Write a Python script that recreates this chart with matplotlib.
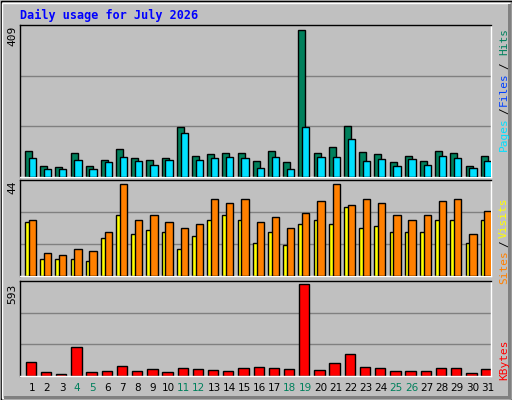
import matplotlib
matplotlib.use("Agg")
import matplotlib.pyplot as plt
from matplotlib.patches import Rectangle
import numpy as np

days = list(range(1, 32))
weekends = [4, 5, 11, 12, 18, 19, 25, 26]
hits = [72,30,27,66,30,46,77,52,46,52,139,58,63,66,66,44,72,41,409,66,83,141,69,63,41,58,44,72,66,30,58]
files = [52,21,21,46,21,41,55,44,33,46,122,46,52,55,52,24,55,21,139,55,55,105,44,49,30,49,33,58,52,24,44]
sites = [26,8,8,8,7,18,29,20,22,21,13,19,27,29,27,16,21,15,25,27,25,33,23,24,21,21,21,27,27,16,27]
visits = [27,11,10,13,12,21,44,27,29,26,23,25,37,35,37,26,28,23,30,36,44,34,37,35,29,27,29,36,37,20,31]
kbytes = [91,26,13,189,26,33,65,33,46,26,52,46,39,33,52,59,52,46,593,39,85,143,59,52,33,33,33,52,52,20,46]

W, H = 512, 400
fig = plt.figure(figsize=(W/100, H/100), dpi=100)
fig.patch.set_facecolor("#C0C0C0")
mono = "DejaVu Sans Mono"

fig.add_artist(Rectangle((0.5/W, 0.5/H), 1-1/W, 1-1/H, transform=fig.transFigure, fill=False, ec="black", lw=1))
fig.add_artist(Rectangle((2/W, 2/H), 1-5/W, 1-5/H, transform=fig.transFigure, fill=False, ec="white", lw=1))
fig.add_artist(Rectangle((4/W, 1/H), 1-5/W, 3/H, transform=fig.transFigure, color="#808080", lw=0))
fig.add_artist(Rectangle((1-4/W, 1/H), 3/W, 1-5/H, transform=fig.transFigure, color="#808080", lw=0))

def mk(top, base):
    ax = fig.add_axes([20/W, (H-base)/H, 471/W, (base-top)/H])
    ax.set_facecolor("#C0C0C0")
    ax.set_xlim(0.3, 31.3)
    for s in ax.spines.values():
        s.set_color("black"); s.set_linewidth(1)
    ax.spines["right"].set_color("white"); ax.spines["bottom"].set_color("white")
    ax.set_xticks([]); ax.set_yticks([])
    return ax

x = np.array(days)
ax1 = mk(25, 177)
top1 = 409*152/147
ax1.set_ylim(0, top1)
for f in (1/3, 2/3):
    ax1.axhline(top1*f, color="#808080", lw=1, zorder=0)
ax1.bar(x-0.375, hits, width=0.46, align="edge", color="#00805C", ec="black", lw=1, zorder=2)
ax1.bar(x-0.13, files, width=0.48, align="edge", color="#00E0FF", ec="black", lw=1, zorder=3)
fig.text(17/W, (H-26)/H, "409", rotation=90, ha="right", va="top", fontsize=8, family=mono)
fig.text(504/W, (H-28)/H, "Hits", rotation=90, ha="center", va="top", fontsize=8, family=mono, color="#00805C")
fig.text(504/W, (H-62)/H, "/", rotation=90, ha="center", va="top", fontsize=8, family=mono, color="black")
fig.text(504/W, (H-72)/H, "Files", rotation=90, ha="center", va="top", fontsize=8, family=mono, color="#0040FF")
fig.text(504/W, (H-107)/H, "/", rotation=90, ha="center", va="top", fontsize=8, family=mono, color="black")
fig.text(504/W, (H-117)/H, "Pages", rotation=90, ha="center", va="top", fontsize=8, family=mono, color="#00E0FF")

ax2 = mk(180, 276)
top2 = 44*96/92
ax2.set_ylim(0, top2)
for f in (1/3, 2/3):
    ax2.axhline(top2*f, color="#808080", lw=1, zorder=0)
ax2.bar(x-0.375, sites, width=0.46, align="edge", color="#FFFF00", ec="black", lw=1, zorder=2)
ax2.bar(x-0.13, visits, width=0.48, align="edge", color="#FF8000", ec="black", lw=1, zorder=3)
fig.text(17/W, (H-181)/H, "44", rotation=90, ha="right", va="top", fontsize=8, family=mono)
fig.text(504/W, (H-198)/H, "Visits", rotation=90, ha="center", va="top", fontsize=8, family=mono, color="#FFFF00")
fig.text(504/W, (H-240)/H, "/", rotation=90, ha="center", va="top", fontsize=8, family=mono, color="black")
fig.text(504/W, (H-250)/H, "Sites", rotation=90, ha="center", va="top", fontsize=8, family=mono, color="#FF8000")

ax3 = mk(281, 376)
top3 = 593*95/92
ax3.set_ylim(0, top3)
for f in (1/3, 2/3):
    ax3.axhline(top3*f, color="#808080", lw=1, zorder=0)
ax3.bar(x-0.33, kbytes, width=0.68, align="edge", color="#FF0000", ec="black", lw=1, zorder=2)
fig.text(17/W, (H-284)/H, "593", rotation=90, ha="right", va="top", fontsize=8, family=mono)
fig.text(504/W, (H-340)/H, "KBytes", rotation=90, ha="center", va="top", fontsize=8, family=mono, color="#FF0000")

for d in days:
    xp = 20 + (d - 0.3) * 471/31 + 1
    fig.text(xp/W, (H-388)/H, str(d), ha="center", va="center", fontsize=7.5,
             family="DejaVu Sans", color="#00805C" if d in weekends else "black")

fig.text(20/W, (H-15)/H, "Daily usage for July 2026", ha="left", va="center", fontsize=8.5,
         family=mono, weight="bold", color="#0000FF")

fig.savefig("out.png", dpi=100, facecolor=fig.get_facecolor())
